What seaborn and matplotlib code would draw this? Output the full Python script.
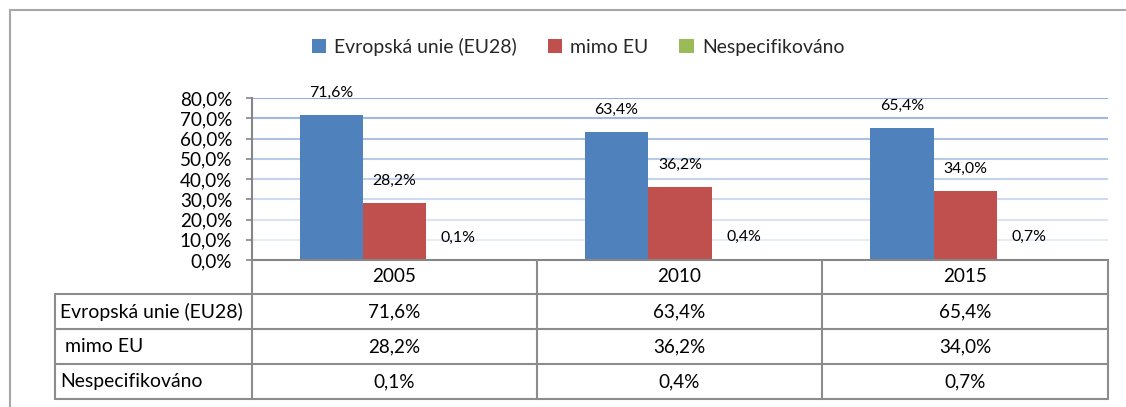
import matplotlib
matplotlib.use('Agg')
import matplotlib.pyplot as plt
import seaborn as sns
import pandas as pd
import numpy as np
from matplotlib.lines import Line2D
from matplotlib.colors import to_rgb

# ---- data ----
years = ['2005', '2010', '2015']
series = ['Evropská unie (EU28)', 'mimo EU', 'Nespecifikováno']
row_labels = ['Evropská unie (EU28)', ' mimo EU', 'Nespecifikováno']
eu28 = [71.6, 63.4, 65.4]
mimo_eu = [28.2, 36.2, 34.0]
nespec = [0.1, 0.4, 0.7]
y_ticks = [0, 10, 20, 30, 40, 50, 60, 70, 80]
colors = ['#4F81BD', '#C0504D', '#9BBB59']

sns.set_theme(style='white')
plt.rcParams['font.family'] = ['Lato', 'DejaVu Sans']

W, H = 1126, 407
fig = plt.figure(figsize=(W / 100, H / 100), dpi=100)
fig.patch.set_facecolor('white')


def fx(px):
    return px / W


def fy(py):
    return 1 - py / H


renderer = fig.canvas.get_renderer()


def fit_size(text, target_px):
    t = fig.text(0, 0, text, fontsize=10)
    w = t.get_window_extent(renderer).width
    t.remove()
    return 10 * target_px / w


main_fs = fit_size('Evropská unie (EU28)', 183)
tick_fs = fit_size('80,0%', 52)
label_fs = fit_size('71,6%', 44)

fmt = lambda v: f"{v:.1f}%".replace('.', ',')

ax = fig.add_axes([fx(252), fy(260), fx(1108) - fx(252), fy(98) - fy(260)])
ax.set_facecolor('white')

df = pd.DataFrame({
    'year': years * 3,
    'series': np.repeat(series, 3),
    'value': eu28 + mimo_eu + nespec,
})

sns.barplot(data=df, x='year', y='value', hue='series', hue_order=series,
            order=years, palette=colors, saturation=1, width=0.667, gap=0,
            linewidth=0, errorbar=None, ax=ax, legend=True, zorder=2)

ax.set_xlim(-0.5, 2.5)
ax.set_ylim(0, 80)
ax.set_yticks(y_ticks)
ax.set_yticklabels([fmt(t) for t in y_ticks])
ax.set_xticks([])
ax.set_xlabel('')
ax.set_ylabel('')
for s in ['top', 'right']:
    ax.spines[s].set_visible(False)
axis_col = '#868686'
ax.spines['left'].set_color(axis_col)
ax.spines['left'].set_linewidth(1.5)
ax.spines['bottom'].set_color(axis_col)
ax.spines['bottom'].set_linewidth(1.5)
ax.tick_params(axis='y', direction='out', length=4.3, width=1.2,
               color=axis_col, pad=10, labelsize=tick_fs, labelcolor='black',
               left=True)

# gradient gridlines
top_c = np.array(to_rgb('#94b0df'))
bot_c = np.array(to_rgb('#e6ecf7'))
for t in y_ticks[1:]:
    f = (t - 10) / 70
    c = bot_c + (top_c - bot_c) * f
    ax.axhline(t, color=c, lw=1.5, zorder=0.5)

# data labels
for cont in ax.containers:
    for bar in cont:
        h = bar.get_height()
        ax.annotate(fmt(h), (bar.get_x() + bar.get_width() / 2, h),
                    xytext=(0, 22 * 72 / 100), textcoords='offset points',
                    ha='center', va='center', fontsize=label_fs,
                    color='black', annotation_clip=False)

# legend
handles, labels = ax.get_legend_handles_labels()
ax.get_legend().remove()
fig.legend(handles, labels, loc='center', bbox_to_anchor=(fx(578), fy(47)),
           ncol=3, frameon=False, fontsize=main_fs, handlelength=0.75,
           handleheight=0.75, handletextpad=0.4, columnspacing=1.6)

# data table
tcol = '#8c8c8c'


def hline(y, x0, x1, col=tcol, lw=1.5):
    fig.add_artist(Line2D([fx(x0), fx(x1)], [fy(y), fy(y)], color=col, lw=lw))


def vline(x, y0, y1, col=tcol, lw=1.5):
    fig.add_artist(Line2D([fx(x), fx(x)], [fy(y0), fy(y1)], color=col, lw=lw))


row_y = [260, 294, 329, 364, 399]
col_x = [252, 537, 822, 1108]
for y in row_y[1:]:
    hline(y, 55, 1108)
vline(55, 294, 399)
for x in col_x:
    vline(x, 260, 399)

for j, yr in enumerate(years):
    cx = (col_x[j] + col_x[j + 1]) / 2
    fig.text(fx(cx), fy((row_y[0] + row_y[1]) / 2), yr, ha='center',
             va='center', fontsize=tick_fs, color='black')
    for i, vals in enumerate([eu28, mimo_eu, nespec]):
        cy = (row_y[i + 1] + row_y[i + 2]) / 2
        fig.text(fx(cx), fy(cy), fmt(vals[j]), ha='center', va='center',
                 fontsize=tick_fs, color='black')

for i, lab in enumerate(row_labels):
    cy = (row_y[i + 1] + row_y[i + 2]) / 2
    fig.text(fx(60), fy(cy), lab, ha='left', va='center', fontsize=main_fs,
             color='black')

# outer frame
frame_col = '#a6a6a6'
hline(10, 10, 1130, col=frame_col, lw=1.5)
vline(10, 10, 410, col=frame_col, lw=1.5)

fig.savefig('out.png', dpi=100, facecolor='white')
